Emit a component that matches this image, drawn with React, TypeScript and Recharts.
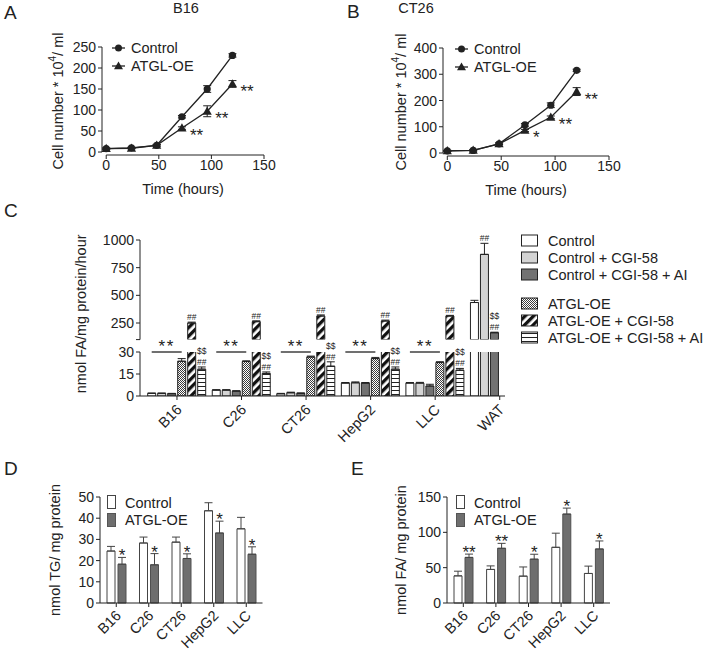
import React from 'react';
import {
  LineChart, Line, BarChart, Bar, XAxis, YAxis, ErrorBar, LabelList, Legend, ReferenceLine, Label,
} from 'recharts';

const FONT = '"Liberation Sans", Arial, Helvetica, sans-serif';
const INK = '#222222';
const FS = 14.5;
const TICK_FS = 14;
const STAR_FS = 17;
const MARK_FS = 8.5;
const LIGHT = '#d4d4d4';
const MID = '#727272';
const DARK = '#6e6e6e';

// ---------------- Panel A : B16 growth ----------------
const timeHours = [0, 24, 48, 72, 96, 120];
const timeTicks = [0, 50, 100, 150];
const b16Control = [8, 10, 16, 84, 150, 230];
const b16ControlErr = [1.5, 1.5, 2, 3, 8, 4];
const b16Atgl = [8, 9, 16, 57, 97, 162];
const b16AtglErr = [1.5, 1.5, 2, 3, 13, 8];
const b16Stars = ['', '', '', '**', '**', '**'];
const b16YTicks = [0, 50, 100, 150, 200, 250];

// ---------------- Panel B : CT26 growth ----------------
const ct26Control = [8, 10, 35, 107, 182, 315];
const ct26ControlErr = [2, 2, 3, 5, 9, 4];
const ct26Atgl = [8, 10, 35, 86, 136, 234];
const ct26AtglErr = [2, 2, 3, 4, 5, 15];
const ct26Stars = ['', '', '', '*', '**', '**'];
const ct26YTicks = [0, 100, 200, 300, 400];

// ---------------- Panel C : lipolysis ----------------
const cCategories = ['B16', 'C26', 'CT26', 'HepG2', 'LLC', 'WAT'];
const cControl = [1.8, 4, 1.5, 8.8, 8.8, 435];
const cControlErr = [0.2, 0.3, 0.3, 0.4, 0.4, 20];
const cCgi = [1.8, 4, 2.2, 9, 8.8, 870];
const cCgiErr = [0.2, 0.3, 0.4, 0.6, 0.5, 100];
const cCgiAi = [1.6, 3.3, 1.8, 8.8, 6.8, 162];
const cCgiAiErr = [0.2, 0.3, 0.3, 0.4, 1.2, 5];
const cAtgl = [23.7, 23.5, 26.6, 25.5, 22.8, null];
const cAtglErr = [1.8, 0.5, 0.6, 0.8, 0.6, null];
const cAtglCgi = [250, 262, 313, 268, 313, null];
const cAtglCgiErr = [8, 8, 10, 8, 6, null];
const cAtglCgiAi = [18.3, 15.4, 20.3, 18.3, 17.6, null];
const cAtglCgiAiErr = [1.5, 1, 3, 1.5, 1.2, null];
const cTopTicks = [100, 250, 500, 750, 1000];
const cBottomTicks = [0, 15, 30];
const C_TOP_MIN = 100;
const C_TOP_MAX = 1000;
const C_BOTTOM_MAX = 30;
const cGroupStars = ['**', '**', '**', '**', '**', ''];
const cCgiMarks = [[], [], [], [], [], ['##']];
const cCgiAiMarks = [[], [], [], [], [], ['$$', '##']];
const cAtglCgiMarks = [['##'], ['##'], ['##'], ['##'], ['##'], []];
const cAtglCgiAiMarks = [['$$', '##'], ['$$', '##'], ['$$', '##'], ['$$', '##'], ['$$', '##'], []];

// ---------------- Panel D : TG ----------------
const dCategories = ['B16', 'C26', 'CT26', 'HepG2', 'LLC'];
const dControl = [24.5, 28.3, 28.7, 43.5, 35];
const dControlErr = [2.2, 2.8, 2.4, 3.8, 5.4];
const dAtgl = [18.3, 18, 21, 33, 23];
const dAtglErr = [3.2, 5.3, 2.2, 5.6, 3.5];
const dStars = ['*', '*', '*', '*', '*'];
const dTicks = [0, 10, 20, 30, 40, 50];

// ---------------- Panel E : FA ----------------
const eControl = [38.4, 47.5, 38, 78.8, 41.8];
const eControlErr = [6.6, 5, 13, 20, 10.4];
const eAtgl = [64.5, 77.4, 62, 125.8, 76.4];
const eAtglErr = [4.7, 7, 7, 8.5, 11.4];
const eStars = ['**', '**', '*', '*', '*'];
const eTicks = [0, 50, 100, 150];

// ---------------- series styling ----------------
const cSeries = [
  { key: 'control', name: 'Control', values: cControl, errs: cControlErr, fill: '#ffffff' },
  { key: 'cgi', name: 'Control + CGI-58', values: cCgi, errs: cCgiErr, fill: LIGHT },
  { key: 'cgiAi', name: 'Control + CGI-58 + AI', values: cCgiAi, errs: cCgiAiErr, fill: MID },
  { key: 'atgl', name: 'ATGL-OE', values: cAtgl, errs: cAtglErr, fill: 'url(#patDots)' },
  { key: 'atglCgi', name: 'ATGL-OE + CGI-58', values: cAtglCgi, errs: cAtglCgiErr, fill: 'url(#patDiag)' },
  { key: 'atglCgiAi', name: 'ATGL-OE + CGI-58 + AI', values: cAtglCgiAi, errs: cAtglCgiAiErr, fill: 'url(#patHoriz)' },
];

const X_LOW = -4;

const growthRows = (c: number[], ce: number[], a: number[], ae: number[]) =>
  timeHours.map((t, i) => ({ t, control: c[i], controlErr: ce[i], atgl: a[i], atglErr: ae[i] }));
const aRows = growthRows(b16Control, b16ControlErr, b16Atgl, b16AtglErr);
const bRows = growthRows(ct26Control, ct26ControlErr, ct26Atgl, ct26AtglErr);
// y-axis of the growth panels, drawn as a series along the left edge of the plot
const axisRows = (ticks: number[]) => ticks.map((v) => ({ t: X_LOW, tick: v }));

const cRows = cCategories.map((cat, i) => {
  const row: any = { cat };
  cSeries.forEach((s) => {
    row[s.key] = s.values[i];
    row[s.key + 'Err'] = s.errs[i];
  });
  return row;
});
const cTopRows = cRows.map((r) => {
  const row: any = { ...r };
  cSeries.forEach((s) => {
    const v = r[s.key];
    row[s.key] = v != null && v > C_TOP_MIN ? v : null;
  });
  return row;
});

const dRows = dCategories.map((cat, i) => ({ cat, control: dControl[i], controlErr: dControlErr[i], atgl: dAtgl[i], atglErr: dAtglErr[i] }));
const eRows = dCategories.map((cat, i) => ({ cat, control: eControl[i], controlErr: eControlErr[i], atgl: eAtgl[i], atglErr: eAtglErr[i] }));

const tickStyle = { fontSize: TICK_FS, fill: INK, fontFamily: FONT };
const noMeasure = () => '';

const upErr = (key: string) => (d: any) =>
  d == null || d[key] == null || d[key + 'Err'] == null ? null : [0, d[key + 'Err']];

const boxOf = (p: any) => (p && p.viewBox && p.viewBox.x != null ? p.viewBox : p);

// ---- label renderers ----
const yTitle = (content: React.ReactNode, gap: number, shift = 0) => (p: any) => {
  const vb = p.viewBox || {};
  const cx = vb.x + vb.width - gap;
  const cy = vb.y + vb.height / 2 + shift;
  return (
    <text x={cx} y={cy} transform={`rotate(-90 ${cx} ${cy})`} textAnchor="middle" dominantBaseline="central"
      fontSize={FS} fontFamily={FONT} fill={INK}>
      {content}
    </text>
  );
};

const lineStars = (stars: string[]) => (p: any) => {
  const i = timeHours.indexOf(Number(p.value));
  const s = stars[i];
  if (!s) return null;
  const b = boxOf(p);
  return (
    <text x={b.x + 8} y={b.y + 13} fontSize={STAR_FS} fontFamily={FONT} fill={INK}>{s}</text>
  );
};

const axisTickLabel = (p: any) => {
  const b = boxOf(p);
  if (b.x == null || b.y == null) return null;
  return (
    <text x={b.x - 6} y={b.y} textAnchor="end" dominantBaseline="central" fontSize={TICK_FS} fontFamily={FONT} fill={INK}>
      {String(p.value)}
    </text>
  );
};

const axisTickMark = (p: any) => {
  const { cx, cy, index } = p;
  if (cx == null || cy == null) return <g key={`m-${index}`} />;
  return <line key={`m-${index}`} x1={cx - 4} x2={cx} y1={cy} y2={cy} stroke={INK} strokeWidth={1} />;
};

const stackedMarks = (marks: string[][], values: (number | null)[], errs: (number | null)[], base: number) => (p: any) => {
  const i = cCategories.indexOf(String(p.value));
  const m = marks[i];
  const v = values[i];
  if (i < 0 || !m || m.length === 0 || v == null) return null;
  const b = boxOf(p);
  const pxu = b.height / (v - base);
  const errTop = b.y - (errs[i] ?? 0) * pxu;
  const cx = b.x + b.width / 2;
  return (
    <g>
      {m.map((t, k) => (
        <text key={k} x={cx} y={errTop - 2 - (m.length - 1 - k) * 11} textAnchor="middle"
          fontSize={MARK_FS} fontFamily={FONT} fill={INK}>{t}</text>
      ))}
    </g>
  );
};

const groupStars = (p: any) => {
  const i = cCategories.indexOf(String(p.value));
  const s = cGroupStars[i];
  const v = cAtgl[i];
  if (i < 0 || !s || v == null) return null;
  const b = boxOf(p);
  const pxu = b.height / v;
  const yLine = b.y + b.height - C_BOTTOM_MAX * pxu;
  const cx = b.x + b.width / 2;
  const x0 = cx - 3 * (b.width + 2);
  return (
    <g>
      <line x1={x0} x2={cx} y1={yLine} y2={yLine} stroke={INK} strokeWidth={1.3} />
      <text x={(x0 + cx) / 2} y={yLine - 0.5} textAnchor="middle" fontSize={STAR_FS} fontFamily={FONT} fill={INK}
        letterSpacing={1.5}>{s}</text>
    </g>
  );
};

const barStars = (cats: string[], stars: string[], values: number[], errs: number[]) => (p: any) => {
  const i = cats.indexOf(String(p.value));
  const s = stars[i];
  if (i < 0 || !s) return null;
  const b = boxOf(p);
  const pxu = b.height / values[i];
  const errTop = b.y - errs[i] * pxu;
  return (
    <text x={b.x + b.width / 2} y={errTop + 4} textAnchor="middle" fontSize={STAR_FS} fontFamily={FONT} fill={INK}>{s}</text>
  );
};

const RotTick = (props: any) => {
  const { x, y, payload } = props;
  return (
    <g transform={`translate(${x},${y})`}>
      <text x={0} y={0} dx={-2} dy={10} textAnchor="end" transform="rotate(-45)" fontSize={FS} fontFamily={FONT} fill={INK}>
        {payload.value}
      </text>
    </g>
  );
};

const NumTick = (props: any) => {
  const { x, y, payload, textAnchor, hideValue } = props;
  if (hideValue != null && payload.value === hideValue) return <g />;
  return (
    <text x={x} y={y} textAnchor={textAnchor} dominantBaseline="central" fontSize={TICK_FS} fontFamily={FONT} fill={INK}>
      {String(payload.value)}
    </text>
  );
};

const triangleDot = (p: any) => {
  const { cx, cy, index } = p;
  if (cx == null || cy == null) return <g key={`t-${index}`} />;
  return (
    <polygon key={`t-${index}`} points={`${cx},${cy - 4.8} ${cx - 4.6},${cy + 3.4} ${cx + 4.6},${cy + 3.4}`} fill={INK} />
  );
};

// ---- legends ----
const GrowthLegend = () => (
  <svg width={110} height={38} style={{ display: 'block' }}>
    <line x1={0} x2={13} y1={9} y2={9} stroke={INK} strokeWidth={1.3} />
    <circle cx={6.5} cy={9} r={3.5} fill={INK} />
    <text x={19} y={9} dominantBaseline="central" fontSize={FS} fontFamily={FONT} fill={INK}>Control</text>
    <line x1={0} x2={13} y1={27} y2={27} stroke={INK} strokeWidth={1.3} />
    <polygon points="6.5,22.4 2,30.3 11,30.3" fill={INK} />
    <text x={19} y={27} dominantBaseline="central" fontSize={FS} fontFamily={FONT} fill={INK}>ATGL-OE</text>
  </svg>
);

const CLegend = () => (
  <svg width={195} height={112} style={{ display: 'block' }}>
    {cSeries.map((s, i) => {
      const cy = 7.5 + i * 17 + (i >= 3 ? 12 : 0);
      return (
        <g key={s.key}>
          <rect x={0.5} y={cy - 5.5} width={16} height={11} fill={s.fill} stroke={INK} strokeWidth={1} />
          <text x={27} y={cy} dominantBaseline="central" fontSize={FS} fontFamily={FONT} fill={INK}>{s.name}</text>
        </g>
      );
    })}
  </svg>
);

const PairLegend = () => (
  <svg width={110} height={36} style={{ display: 'block' }}>
    <rect x={0.5} y={1.5} width={8} height={13} fill="#ffffff" stroke="#444" />
    <text x={18} y={9} dominantBaseline="central" fontSize={FS} fontFamily={FONT} fill={INK}>Control</text>
    <rect x={0.5} y={19.5} width={8} height={13} fill={DARK} stroke="#555" />
    <text x={18} y={26} dominantBaseline="central" fontSize={FS} fontFamily={FONT} fill={INK}>ATGL-OE</text>
  </svg>
);

// ---- panels ----
function GrowthPanel(props: {
  left: number; rows: any[]; yLow: number; yMax: number; yTicks: number[]; stars: string[];
  margin: any; legendLeft: number; legendTop: number; gap: number;
}) {
  const { left, rows, yLow, yMax, yTicks, stars, margin, legendLeft, legendTop, gap } = props;
  return (
    <div style={{ position: 'absolute', left, top: 0, zIndex: 2 }}>
      <LineChart width={300} height={200} data={rows} margin={margin}>
        <XAxis type="number" dataKey="t" domain={[X_LOW, 150]} ticks={timeTicks} interval={0} minTickGap={0} axisLine={false}
          tickLine={{ stroke: INK }} tickSize={4} tickMargin={1} tick={tickStyle} height={39}>
          <Label value="Time (hours)" position="insideBottom" offset={0} fontSize={FS} fontFamily={FONT} fill={INK} />
        </XAxis>
        <YAxis type="number" domain={[yLow, yMax]} ticks={yTicks} axisLine={false}
          tick={false} tickLine={false} width={40}
          label={yTitle(<>Cell number * 10<tspan dy={-6} fontSize={10}>4</tspan><tspan dy={6}>/ ml</tspan></>, gap)} />
        <ReferenceLine segment={[{ x: 0, y: yLow }, { x: 150, y: yLow }]} stroke={INK} strokeWidth={1} ifOverflow="visible" />
        {/* y axis: line, tick marks and tick labels */}
        <Line data={axisRows(yTicks)} dataKey="tick" name="y-axis" legendType="none" stroke={INK} strokeWidth={1}
          isAnimationActive={false} dot={axisTickMark} activeDot={false}>
          <LabelList dataKey="tick" content={axisTickLabel} />
        </Line>
        <Line dataKey="control" name="Control" stroke={INK} strokeWidth={1.3} isAnimationActive={false}
          dot={{ r: 3.6, fill: INK, stroke: INK, strokeWidth: 0 }} activeDot={false}>
          <ErrorBar dataKey="controlErr" direction="y" width={4} stroke={INK} strokeWidth={1} />
        </Line>
        <Line dataKey="atgl" name="ATGL-OE" stroke={INK} strokeWidth={1.3} isAnimationActive={false}
          dot={triangleDot} activeDot={false}>
          <ErrorBar dataKey="atglErr" direction="y" width={4} stroke={INK} strokeWidth={1} />
          <LabelList dataKey="t" content={lineStars(stars)} />
        </Line>
        <Legend layout="vertical" align="center" verticalAlign="middle"
          wrapperStyle={{ left: legendLeft, top: legendTop }} content={() => <GrowthLegend />} />
      </LineChart>
    </div>
  );
}

function PairPanel(props: {
  left: number; width: number; rows: any[]; yMax: number; yTicks: number[]; stars: string[]; atgl: number[]; atglErr: number[];
  marginLeft: number; marginRight: number; title: string; gap: number; legendLeft: number;
}) {
  const { left, width, rows, yMax, yTicks, stars, atgl, atglErr, marginLeft, marginRight, title, gap, legendLeft } = props;
  return (
    <div style={{ position: 'absolute', left, top: 455 }}>
      <BarChart width={width} height={197} data={rows}
        margin={{ top: 42, right: marginRight, bottom: 4, left: marginLeft }} barSize={8} barGap={3}>
        <XAxis dataKey="cat" interval={0} minTickGap={0} tick={<RotTick />} tickSize={4} tickMargin={1} height={45}
          axisLine={{ stroke: INK }} tickLine={{ stroke: INK }} />
        <YAxis type="number" domain={[0, yMax]} ticks={yTicks} interval={0} minTickGap={0} width={40} tick={<NumTick />}
          tickFormatter={noMeasure} tickSize={4} tickMargin={2}
          axisLine={{ stroke: INK }} tickLine={{ stroke: INK }} label={yTitle(title, gap)} />
        <Bar dataKey="control" name="Control" fill="#ffffff" stroke="#444" strokeWidth={1} isAnimationActive={false}>
          <ErrorBar dataKey={upErr('control')} direction="y" width={4} stroke="#444" strokeWidth={1} />
        </Bar>
        <Bar dataKey="atgl" name="ATGL-OE" fill={DARK} stroke="#505050" strokeWidth={1} isAnimationActive={false}>
          <ErrorBar dataKey={upErr('atgl')} direction="y" width={4} stroke="#444" strokeWidth={1} />
          <LabelList dataKey="cat" content={barStars(dCategories, stars, atgl, atglErr)} />
        </Bar>
        <Legend layout="vertical" align="center" verticalAlign="middle"
          wrapperStyle={{ left: legendLeft, top: 39 }} content={() => <PairLegend />} />
      </BarChart>
    </div>
  );
}

const C_X_PADDING = { left: 4.7, right: -27 };

function LipolysisPanel() {
  return (
    <>
      <div style={{ position: 'absolute', left: 0, top: 200 }}>
        <BarChart width={711} height={250} data={cTopRows}
          margin={{ top: 40, right: 206, bottom: 110.4, left: 100 }} barSize={8} barGap={2}>
          <XAxis dataKey="cat" hide padding={C_X_PADDING} />
          <YAxis type="number" domain={[C_TOP_MIN, C_TOP_MAX]} ticks={cTopTicks} interval={0} minTickGap={0} allowDataOverflow width={40}
            tick={<NumTick hideValue={C_TOP_MIN} />} tickFormatter={noMeasure} tickSize={4} tickMargin={2}
            axisLine={{ stroke: INK }} tickLine={{ stroke: INK }}
            label={yTitle('nmol FA/mg protein/hour', 59, 24)} />
          {cSeries.map((s) => (
            <Bar key={s.key} dataKey={s.key} name={s.name} fill={s.fill} stroke={INK} strokeWidth={1}
              isAnimationActive={false}>
              <ErrorBar dataKey={upErr(s.key)} direction="y" width={4} stroke={INK} strokeWidth={1} />
              {s.key === 'cgi' && <LabelList dataKey="cat" content={stackedMarks(cCgiMarks, cCgi, cCgiErr, C_TOP_MIN)} />}
              {s.key === 'cgiAi' && <LabelList dataKey="cat" content={stackedMarks(cCgiAiMarks, cCgiAi, cCgiAiErr, C_TOP_MIN)} />}
              {s.key === 'atglCgi' && <LabelList dataKey="cat" content={stackedMarks(cAtglCgiMarks, cAtglCgi, cAtglCgiErr, C_TOP_MIN)} />}
            </Bar>
          ))}
          <Legend layout="vertical" align="center" verticalAlign="middle"
            wrapperStyle={{ left: 521, top: 33 }} content={() => <CLegend />} />
        </BarChart>
      </div>
      <div style={{ position: 'absolute', left: 0, top: 330 }}>
        <BarChart width={711} height={122} data={cRows}
          margin={{ top: 22, right: 206, bottom: 6, left: 100 }} barSize={8} barGap={2}>
          <XAxis dataKey="cat" interval={0} minTickGap={0} padding={C_X_PADDING} tick={<RotTick />} tickSize={4} tickMargin={2}
            height={50} axisLine={{ stroke: INK }} tickLine={{ stroke: INK }} />
          <YAxis type="number" domain={[0, C_BOTTOM_MAX]} ticks={cBottomTicks} interval={0} minTickGap={0} allowDataOverflow width={40}
            tick={<NumTick />} tickFormatter={noMeasure} tickSize={4} tickMargin={2} axisLine={{ stroke: INK }} tickLine={{ stroke: INK }} />
          {cSeries.map((s) => (
            <Bar key={s.key} dataKey={s.key} name={s.name} fill={s.fill} stroke={INK} strokeWidth={1}
              isAnimationActive={false}>
              <ErrorBar dataKey={upErr(s.key)} direction="y" width={4} stroke={INK} strokeWidth={1} />
              {s.key === 'atgl' && <LabelList dataKey="cat" content={groupStars} />}
              {s.key === 'atglCgiAi' && <LabelList dataKey="cat" content={stackedMarks(cAtglCgiAiMarks, cAtglCgiAi, cAtglCgiAiErr, 0)} />}
            </Bar>
          ))}
        </BarChart>
      </div>
    </>
  );
}

function PatternDefs() {
  return (
    <svg width={0} height={0} style={{ position: 'absolute', left: 0, top: 0 }}>
      <defs>
        <pattern id="patDots" width={2} height={2} patternUnits="userSpaceOnUse">
          <rect width={2} height={2} fill="#ffffff" />
          <rect width={1} height={1} fill="#3c3c3c" />
          <rect x={1} y={1} width={1} height={1} fill="#3c3c3c" />
        </pattern>
        <pattern id="patDiag" width={6} height={6} patternUnits="userSpaceOnUse" patternTransform="rotate(45)">
          <rect width={6} height={6} fill="#ffffff" />
          <rect width={3.3} height={6} fill="#111111" />
        </pattern>
        <pattern id="patHoriz" width={4} height={4} patternUnits="userSpaceOnUse">
          <rect width={4} height={4} fill="#ffffff" />
          <rect width={4} height={1} fill="#222222" />
        </pattern>
      </defs>
    </svg>
  );
}

function Overlay() {
  const letter = { fontSize: 19, fontFamily: FONT, fill: INK };
  const title = { fontSize: FS, fontFamily: FONT, fill: INK };
  return (
    <svg width={711} height={652} style={{ position: 'absolute', left: 0, top: 0, pointerEvents: 'none', zIndex: 3 }}>
      <text x={4} y={19} {...letter}>A</text>
      <text x={347} y={18} {...letter}>B</text>
      <text x={4} y={217} {...letter}>C</text>
      <text x={4} y={475} {...letter}>D</text>
      <text x={351} y={475} {...letter}>E</text>
      <text x={186} y={13} textAnchor="middle" {...title}>B16</text>
      <text x={416} y={13} textAnchor="middle" {...title}>CT26</text>
    </svg>
  );
}

export default function App() {
  return (
    <div style={{ position: 'absolute', left: 0, top: 0, width: 711, height: 652, background: '#ffffff', overflow: 'hidden' }}>
      <PatternDefs />
      <GrowthPanel left={0} rows={aRows} yLow={-7.1} yMax={250} yTicks={b16YTicks} stars={b16Stars}
        margin={{ top: 47, right: 36, bottom: 6, left: 62 }} legendLeft={112} legendTop={39} gap={44} />
      <GrowthPanel left={340} rows={bRows} yLow={-11.4} yMax={400} yTicks={ct26YTicks} stars={ct26Stars}
        margin={{ top: 48, right: 31, bottom: 5, left: 63 }} legendLeft={115} legendTop={40} gap={42} />
      <LipolysisPanel />
      <PairPanel left={0} width={350} rows={dRows} yMax={50} yTicks={dTicks} stars={dStars} atgl={dAtgl} atglErr={dAtglErr}
        marginLeft={60} marginRight={87.5} title="nmol TG/ mg protein" gap={45} legendLeft={107} />
      <PairPanel left={350} width={361} rows={eRows} yMax={150} yTicks={eTicks} stars={eStars} atgl={eAtgl} atglErr={eAtglErr}
        marginLeft={57} marginRight={101} title="nmol FA/ mg protein" gap={46} legendLeft={106} />
      <Overlay />
    </div>
  );
}
